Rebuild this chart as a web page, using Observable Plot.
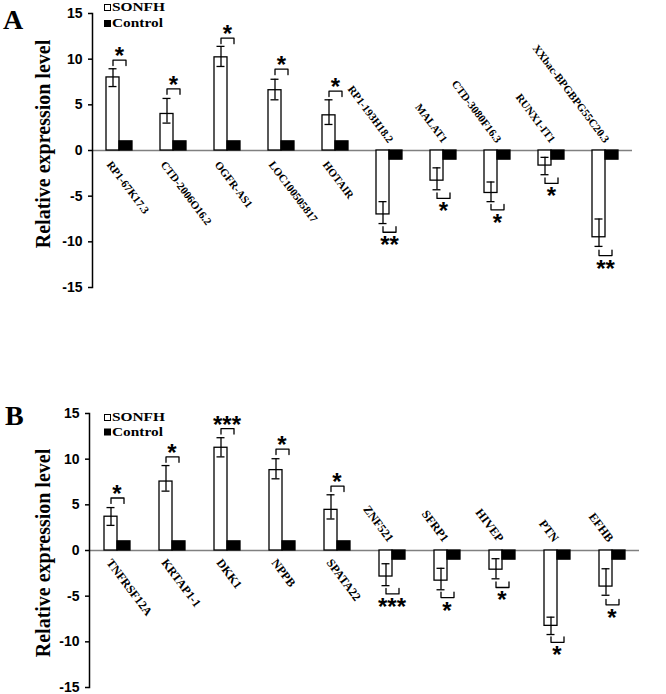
<!DOCTYPE html>
<html><head><meta charset="utf-8">
<script src="https://cdn.jsdelivr.net/npm/d3@7"></script>
<script src="https://cdn.jsdelivr.net/npm/@observablehq/plot@0.6"></script>
<style>
body{margin:0;background:#fff;}
#wrap{position:relative;width:666px;height:694px;overflow:hidden;background:#fff;}
.panel{position:absolute;left:0;}
#overlay{position:absolute;left:0;top:0;}
</style></head><body>
<div id="wrap">
<div id="pa" class="panel" style="top:0px"></div>
<div id="pb" class="panel" style="top:360px"></div>
<svg id="overlay" width="666" height="694"></svg>
</div>
<script>
// ---------- Data (panel A) ----------
const catsA = ["RP1-67K17.3","CTD-2006O16.2","OGFR-AS1","LOC100505817","HOTAIR","RP1-193H18.2","MALAT1","CTD-3080F16.3","RUNX1-IT1","XXbac-BPGBPG55C20.3"];
const sonfhA = [8.0, 4.0, 10.2, 6.6, 3.85, -7.0, -3.3, -4.65, -1.65, -9.5];
const controlA = [1, 1, 1, 1, 1, -1, -1, -1, -1, -1];
const errHiA = [8.95, 5.7, 11.4, 7.8, 5.55, -5.6, -1.9, -3.45, -0.75, -7.5];
const errLoA = [7.0, 3.0, 9.2, 5.55, 2.85, -8.0, -4.3, -5.6, -2.65, -10.5];
const bracketA = [9.9, 6.75, 12.3, 8.9, 6.5, -8.95, -5.25, -6.5, -3.6, -11.5];
const sigA = ["*","*","*","*","*","**","*","*","*","**"];

// ---------- Data (panel B) ----------
const catsB = ["TNFRSF12A","KRTAP1-1","DKK1","NPPB","SPATA22","ZNF521","SFRP1","HIVEP","PTN","EFHB"];
const sonfhB = [3.7, 7.55, 11.25, 8.8, 4.45, -2.85, -3.3, -2.1, -8.25, -3.95];
const controlB = [1, 1, 1, 1, 1, -1, -1, -1, -1, -1];
const errHiB = [4.7, 9.3, 12.35, 10.05, 6.1, -1.45, -1.95, -0.9, -7.3, -2.0];
const errLoB = [2.75, 6.5, 10.25, 7.85, 3.45, -3.85, -4.3, -3.1, -9.2, -4.9];
const bracketB = [5.75, 10.25, 13.35, 11.1, 7.05, -4.75, -5.15, -4.05, -10.05, -5.95];
const sigB = ["*","*","***","*","*","***","*","*","*","*"];

const yTicks = [-15, -10, -5, 0, 5, 10, 15];
const groups = ["SONFH", "Control"];
const serif = "'Liberation Serif','Times New Roman',serif";
const sans = "'Liberation Sans',Arial,sans-serif";

function panel(cats, sonfh, control, errHi, errLo, bracket, sig, o) {
  const bars = cats.flatMap((c, i) => [
    {cat: c, group: "SONFH", value: sonfh[i]},
    {cat: c, group: "Control", value: control[i]}
  ]);
  const rows = cats.map((c, i) => ({cat: c, group: "SONFH", hi: errHi[i], lo: errLo[i], br: bracket[i], sig: sig[i], up: sonfh[i] > 0}));
  const labels = cats.map((c, i) => ({cat: c, group: sonfh[i] > 0 ? "SONFH" : "Control", up: sonfh[i] > 0}));
  const leg = 0.6;
  const brPts = rows.flatMap(r => {
    const s = r.up ? 1 : -1;
    return [
      {cat: r.cat, group: "SONFH", y: r.br - s * leg},
      {cat: r.cat, group: "SONFH", y: r.br},
      {cat: r.cat, group: "Control", y: r.br},
      {cat: r.cat, group: "Control", y: r.br - s * leg}
    ];
  });
  return Plot.plot({
    width: 666,
    height: o.height,
    marginLeft: o.ml, marginRight: o.mr, marginTop: o.mt, marginBottom: o.mb,
    style: {fontFamily: sans, fontSize: "14px", fontWeight: "bold", background: "white", color: "black"},
    fx: {domain: cats, padding: 0, axis: null},
    x: {domain: groups, paddingInner: 0, paddingOuter: 1, axis: null},
    y: {domain: [-15, 15]},
    marks: [
      Plot.ruleY([0], {stroke: "#808080", strokeWidth: 1.3}),
      Plot.barY(bars.filter(d => d.group === "SONFH"), {fx: "cat", x: "group", y: "value", fill: "white", stroke: "black", strokeWidth: 1.3}),
      Plot.barY(bars.filter(d => d.group === "Control"), {fx: "cat", x: "group", y: "value", fill: "black", stroke: "black", strokeWidth: 1.3}),
      Plot.ruleX(rows, {fx: "cat", x: "group", y1: "lo", y2: "hi", stroke: "black", strokeWidth: 1.3}),
      Plot.tickY(rows, {fx: "cat", x: "group", y: "lo", insetLeft: 2.5, insetRight: 2.5, stroke: "black", strokeWidth: 1.3}),
      Plot.tickY(rows, {fx: "cat", x: "group", y: "hi", insetLeft: 2.5, insetRight: 2.5, stroke: "black", strokeWidth: 1.3}),
      Plot.line(brPts, {fx: "cat", x: "group", y: "y", z: "cat", stroke: "black", strokeWidth: 1.3}),
      Plot.text(rows.filter(r => r.up), {fx: "cat", y: "br", text: "sig", lineAnchor: "bottom", dy: 4, fontSize: 24, fontFamily: sans, fontWeight: "bold"}),
      Plot.text(rows.filter(r => !r.up), {fx: "cat", y: "br", text: "sig", lineAnchor: "bottom", dy: 21, fontSize: 24, fontFamily: sans, fontWeight: "bold"}),
      Plot.text(labels.filter(d => d.up), {fx: "cat", x: "group", y: () => 0, text: "cat", rotate: 53, textAnchor: "start", lineAnchor: "middle", dx: o.pdx, dy: o.pdy, fontSize: o.lfs, fontFamily: serif, fontWeight: "bold"}),
      Plot.text(labels.filter(d => !d.up), {fx: "cat", x: "group", y: () => 0, text: "cat", rotate: 53, textAnchor: "end", lineAnchor: "middle", dx: o.ndx, dy: o.ndy, fontSize: o.lfs, fontFamily: serif, fontWeight: "bold"}),
      Plot.axisY({ticks: yTicks, tickSize: 4, tickPadding: 6, tickFormat: d => String(d), label: null, strokeWidth: 1.5, fontSize: 14, fontWeight: "bold", fontFamily: sans}),
      Plot.frame({anchor: "left", facetAnchor: "left", stroke: "black", strokeWidth: 1.5})
    ]
  });
}

document.getElementById("pa").appendChild(panel(catsA, sonfhA, controlA, errHiA, errLoA, bracketA, sigA,
  {height: 360, ml: 88, mr: 31, mt: 13, mb: 73, pdx: -4, pdy: 12, ndx: -5, ndy: -9, lfs: 11}));
document.getElementById("pb").appendChild(panel(catsB, sonfhB, controlB, errHiB, errLoB, bracketB, sigB,
  {height: 334, ml: 87, mr: 26, mt: 53, mb: 7, pdx: -2, pdy: 10, ndx: -8, ndy: -10, lfs: 12}));

// ---------- Overlay: panel letters, legends, y titles ----------
const ov = d3.select("#overlay");
const letters = [{t: "A", x: 3, y: 28.5}, {t: "B", x: 5, y: 425}];
ov.selectAll("text.letter").data(letters).join("text").attr("class", "letter")
  .attr("x", d => d.x).attr("y", d => d.y).text(d => d.t)
  .attr("font-family", serif).attr("font-weight", "bold").attr("font-size", 28);
const titles = [{x: 50, y: 144}, {x: 50, y: 553}];
ov.selectAll("text.ytitle").data(titles).join("text").attr("class", "ytitle")
  .attr("transform", d => `translate(${d.x},${d.y}) rotate(-90)`).attr("text-anchor", "middle")
  .text("Relative expression level")
  .attr("font-family", serif).attr("font-weight", "bold").attr("font-size", 20);
const legendItems = [
  {name: "SONFH", fill: "white", y: 11}, {name: "Control", fill: "black", y: 27},
  {name: "SONFH", fill: "white", y: 421}, {name: "Control", fill: "black", y: 435.5}
];
ov.selectAll("rect.lg").data(legendItems).join("rect").attr("class", "lg")
  .attr("x", 104.5).attr("y", d => d.y - 6.5).attr("width", 6).attr("height", 6)
  .attr("fill", d => d.fill).attr("stroke", "black").attr("stroke-width", 1);
ov.selectAll("text.lg").data(legendItems).join("text").attr("class", "lg")
  .attr("x", 112).attr("y", d => d.y).text(d => d.name)
  .attr("textLength", d => d.name === "SONFH" ? 53 : 51).attr("lengthAdjust", "spacingAndGlyphs")
  .attr("font-family", serif).attr("font-weight", "bold").attr("font-size", 13);
</script>
</body></html>
